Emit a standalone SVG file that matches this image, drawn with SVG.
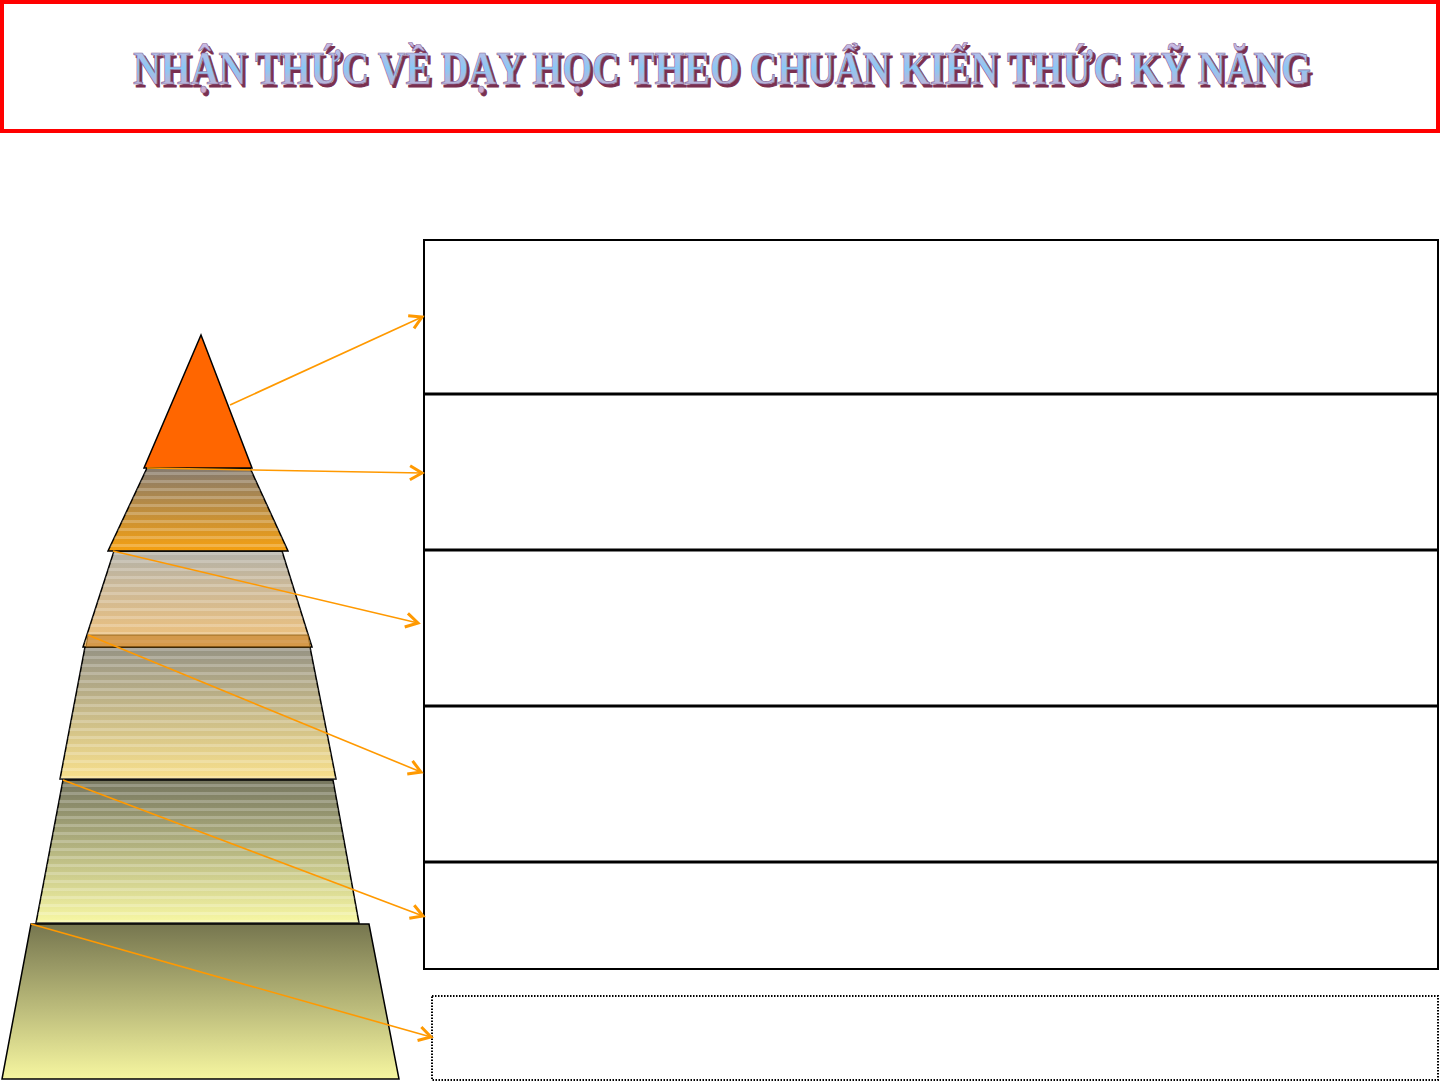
<svg xmlns="http://www.w3.org/2000/svg" width="1441" height="1081" viewBox="0 0 1441 1081">
<style>
.tier{stroke:#000;stroke-width:1.5;stroke-linejoin:miter}
.conn{stroke:#FF9900;stroke-width:1.6;fill:none}
.box{fill:#fff;stroke:#000;stroke-width:2}
.div{stroke:#000;stroke-width:3}
.title{font-family:"Liberation Serif","Times New Roman",serif;font-weight:bold;font-size:46px}
</style>
<defs>
<marker id="ah" markerUnits="userSpaceOnUse" markerWidth="24" markerHeight="24" refX="14" refY="9" orient="auto">
<path d="M2,2 L14,9 L2,16" fill="none" stroke="#FF9900" stroke-width="3"/>
</marker>
<pattern id="stripes" patternUnits="userSpaceOnUse" width="10" height="8">
<rect x="0" y="0" width="10" height="3" fill="#ffffff" fill-opacity="0.22"/>
</pattern>
<linearGradient id="g2" x1="0" y1="0" x2="0" y2="1"><stop offset="0" stop-color="#857a6e"/><stop offset="1" stop-color="#f6a010"/></linearGradient>
<linearGradient id="g3" x1="0" y1="0" x2="0" y2="1"><stop offset="0" stop-color="#b4b2a8"/><stop offset="1" stop-color="#f2c27a"/></linearGradient>
<linearGradient id="g4" x1="0" y1="0" x2="0" y2="1"><stop offset="0" stop-color="#969384"/><stop offset="1" stop-color="#f8e08c"/></linearGradient>
<linearGradient id="g5" x1="0" y1="0" x2="0" y2="1"><stop offset="0" stop-color="#76765f"/><stop offset="1" stop-color="#f8f8a4"/></linearGradient>
<linearGradient id="g6" x1="0" y1="0" x2="0" y2="1"><stop offset="0" stop-color="#76764f"/><stop offset="1" stop-color="#f6f6a0"/></linearGradient>
<linearGradient id="gt" x1="0" y1="0" x2="0" y2="1"><stop offset="0" stop-color="#d0b8e0"/><stop offset="0.5" stop-color="#8cc8f4"/><stop offset="1" stop-color="#d8a8c8"/></linearGradient>
</defs>

<g id="title">
<rect x="2" y="2" width="1436" height="129" fill="#fff" stroke="#FF0000" stroke-width="4"/>
<text class="title" x="135.5" y="86.5" textLength="1178" lengthAdjust="spacingAndGlyphs" fill="#7a3050" stroke="#7a3050" stroke-width="1">NHẬN THỨC VỀ DẠY HỌC THEO CHUẨN KIẾN THỨC KỸ NĂNG</text>
<text class="title" x="133" y="84" textLength="1178" lengthAdjust="spacingAndGlyphs" fill="url(#gt)" stroke="#8a6a9a" stroke-width="0.7">NHẬN THỨC VỀ DẠY HỌC THEO CHUẨN KIẾN THỨC KỸ NĂNG</text>
</g>

<g id="boxes">
<rect class="box" x="424" y="240" width="1014" height="729"/>
<line class="div" x1="424" y1="394" x2="1439" y2="394"/>
<line class="div" x1="424" y1="550" x2="1439" y2="550"/>
<line class="div" x1="424" y1="706" x2="1439" y2="706"/>
<line class="div" x1="424" y1="862" x2="1439" y2="862"/>
</g>
<g id="box-bottom">
<rect x="432" y="996" width="1006" height="84" fill="#fff" stroke="#000" stroke-width="2" stroke-dasharray="1.5 1.5"/>
</g>

<g id="tier6">
<polygon class="tier" points="31,924 369,924 399,1079 2,1079" fill="url(#g6)"/>
</g>
<g id="tier5">
<polygon class="tier" points="63,780 333,780 359,923 36,923" fill="url(#g5)"/>
<polygon points="63,780 333,780 359,923 36,923" fill="url(#stripes)"/>
</g>
<g id="tier4">
<polygon class="tier" points="85,647 310,647 336,779 60,779" fill="url(#g4)"/>
<polygon points="85,647 310,647 336,779 60,779" fill="url(#stripes)"/>
</g>
<g id="tier3">
<polygon class="tier" points="114,551 282,551 312,647 83,647" fill="url(#g3)"/>
<polygon points="114,551 282,551 312,647 83,647" fill="url(#stripes)"/>
<polygon points="88,635 308,635 310,647 86,647" fill="#c07820" fill-opacity="0.55" stroke="#8a5a10" stroke-width="0.8"/>
</g>
<g id="tier2">
<polygon class="tier" points="147,468 250,468 288,551 108,551" fill="url(#g2)"/>
<polygon points="147,468 250,468 288,551 108,551" fill="url(#stripes)"/>
</g>
<g id="tier1">
<polygon class="tier" points="201,335 252,468 144,468" fill="#FF6600"/>
</g>

<g id="connectors">
<line class="conn" x1="230" y1="405" x2="422" y2="317" marker-end="url(#ah)"/>
<line class="conn" x1="147" y1="468" x2="422" y2="473" marker-end="url(#ah)"/>
<line class="conn" x1="113" y1="551" x2="418" y2="623" marker-end="url(#ah)"/>
<line class="conn" x1="88" y1="635" x2="421" y2="772" marker-end="url(#ah)"/>
<line class="conn" x1="63" y1="780" x2="423" y2="916" marker-end="url(#ah)"/>
<line class="conn" x1="31" y1="924" x2="431" y2="1037" marker-end="url(#ah)"/>
</g>
</svg>
